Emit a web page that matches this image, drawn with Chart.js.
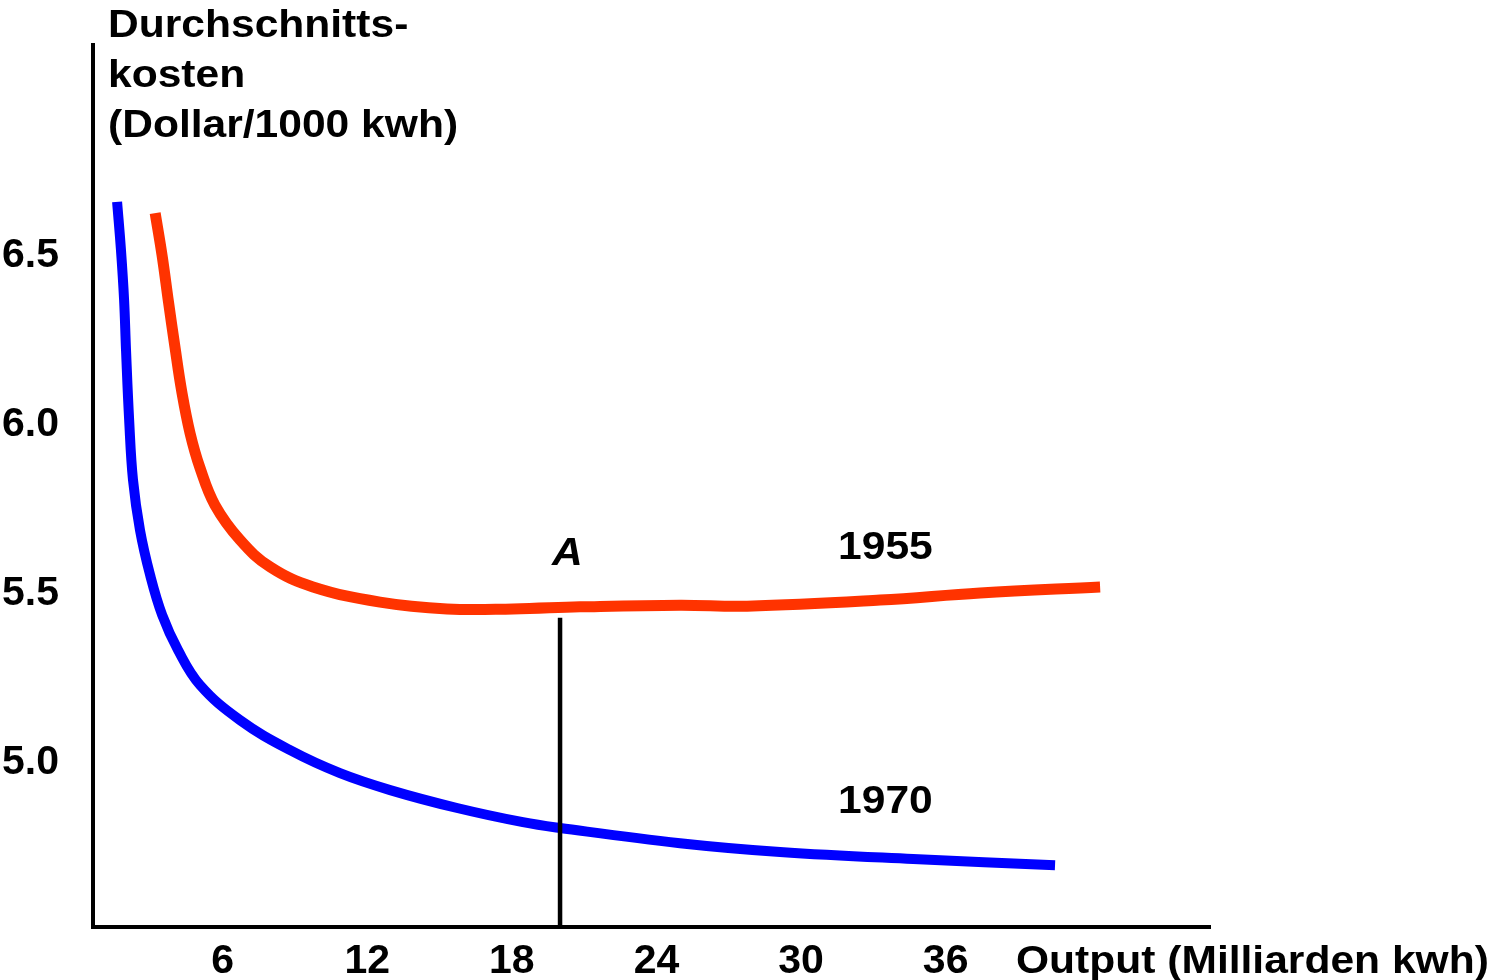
<!DOCTYPE html>
<html>
<head>
<meta charset="utf-8">
<title>Durchschnittskosten 1955 / 1970</title>
<script src="https://cdn.jsdelivr.net/npm/chart.js@4/dist/chart.umd.min.js"></script>
<style>
  html, body { margin: 0; padding: 0; background: #fff; }
  canvas { display: block; }
</style>
</head>
<body>
<canvas id="costChart" width="1492" height="980"></canvas>
<script>
// tick values
const xTicks = [6, 12, 18, 24, 30, 36];
const yTicks = [5.0, 5.5, 6.0, 6.5];

// 1955 curve (output in Mrd kwh, cost in Dollar/1000 kwh)
const output1955 = [3.2, 3.49, 3.75, 4.02, 4.3, 4.65, 5.06, 5.68, 6.72, 7.97, 9.75, 12.53, 15.31, 18.05, 20.83, 24.98, 27.76, 33.28, 37.43, 42.41];
const cost1955 = [6.627, 6.5, 6.365, 6.231, 6.1, 5.975, 5.873, 5.763, 5.66, 5.58, 5.521, 5.476, 5.456, 5.456, 5.462, 5.467, 5.464, 5.482, 5.503, 5.521];

// 1970 curve
const output1970 = [1.62, 1.78, 1.91, 1.99, 2.12, 2.28, 2.57, 2.99, 3.49, 4.15, 5.06, 6.72, 8.8, 10.87, 12.95, 15.73, 18.46, 20.0, 24.98, 29.13, 34.65, 40.54];
const cost1970 = [6.66, 6.518, 6.37, 6.222, 6.015, 5.837, 5.689, 5.556, 5.438, 5.334, 5.231, 5.127, 5.038, 4.97, 4.92, 4.867, 4.825, 4.808, 4.763, 4.737, 4.716, 4.698];

// vertical marker at point A
const markerX = [20, 20];
const markerY = [4.515, 5.43];

// text labels
const yTitleLines = ["Durchschnitts-", "kosten", "(Dollar/1000 kwh)"];
const xTitle = "Output (Milliarden kwh)";
const curveLabels = ["1955", "1970"];
const pointLabel = "A";

const toPoints = (xs, ys) => xs.map((x, i) => ({ x: x, y: ys[i] }));

// draws the stretched texts (titles, curve names, point A)
const textPlugin = {
    id: "texts",
    afterDraw(chart) {
        const ctx = chart.ctx;
        const xs = chart.scales.x;
        const ys = chart.scales.y;
        const stretch = 1.12;

        const put = (text, x, y, font, align) => {
            ctx.save();
            ctx.font = font;
            ctx.fillStyle = "#000";
            ctx.textBaseline = "alphabetic";
            const w = ctx.measureText(text).width * stretch;
            let left = x;
            if (align === "center") left = x - w / 2;
            ctx.translate(left, y);
            ctx.scale(stretch, 1);
            ctx.textAlign = "left";
            ctx.fillText(text, 0, 0);
            ctx.restore();
        };

        const bold = "bold 38px 'Liberation Sans', Arial, sans-serif";
        yTitleLines.forEach((line, i) => put(line, 108, 37 + i * 50, bold));
        put(xTitle, 1016, 973, bold);

        put(curveLabels[0], xs.getPixelForValue(33.5), ys.getPixelForValue(5.605), bold, "center");
        put(curveLabels[1], xs.getPixelForValue(33.5), ys.getPixelForValue(4.852), bold, "center");
        put(pointLabel, xs.getPixelForValue(20.3), ys.getPixelForValue(5.586),
            "italic bold 38px 'Liberation Sans', Arial, sans-serif", "center");
    }
};

new Chart(document.getElementById("costChart"), {
    type: "line",
    data: {
        datasets: [
            {
                label: "A",
                data: toPoints(markerX, markerY),
                borderColor: "#000000",
                borderWidth: 4.5,
                pointRadius: 0,
                borderCapStyle: "butt"
            },
            {
                label: "1955",
                data: toPoints(output1955, cost1955),
                borderColor: "#ff3300",
                borderWidth: 11,
                pointRadius: 0,
                tension: 0.4,
                borderCapStyle: "butt"
            },
            {
                label: "1970",
                data: toPoints(output1970, cost1970),
                borderColor: "#0000ff",
                borderWidth: 10,
                pointRadius: 0,
                tension: 0.4,
                borderCapStyle: "butt"
            }
        ]
    },
    options: {
        responsive: false,
        devicePixelRatio: 1,
        animation: false,
        clip: false,
        layout: { padding: { left: 2, top: 45, right: 282, bottom: 0 } },
        plugins: {
            legend: { display: false },
            tooltip: { enabled: false }
        },
        scales: {
            x: {
                type: "linear",
                min: 0.62,
                max: 46.97,
                grid: { display: false, drawTicks: false },
                border: { display: true, color: "#000", width: 4 },
                afterBuildTicks: (scale) => { scale.ticks = xTicks.map(v => ({ value: v })); },
                afterFit: (scale) => { scale.height = 53; },
                ticks: {
                    color: "#000",
                    padding: 10,
                    maxRotation: 0,
                    autoSkip: false,
                    font: { family: "'Liberation Sans', Arial, sans-serif", size: 41, weight: "bold" }
                }
            },
            y: {
                type: "linear",
                min: 4.515,
                max: 7.124,
                grid: { display: false, drawTicks: false },
                border: { display: true, color: "#000", width: 4 },
                afterBuildTicks: (scale) => { scale.ticks = yTicks.map(v => ({ value: v })); },
                afterFit: (scale) => { scale.width = 91; },
                ticks: {
                    color: "#000",
                    crossAlign: "far",
                    callback: (v) => Number(v).toFixed(1),
                    font: { family: "'Liberation Sans', Arial, sans-serif", size: 41, weight: "bold" }
                }
            }
        }
    },
    plugins: [textPlugin]
});
</script>
</body>
</html>
